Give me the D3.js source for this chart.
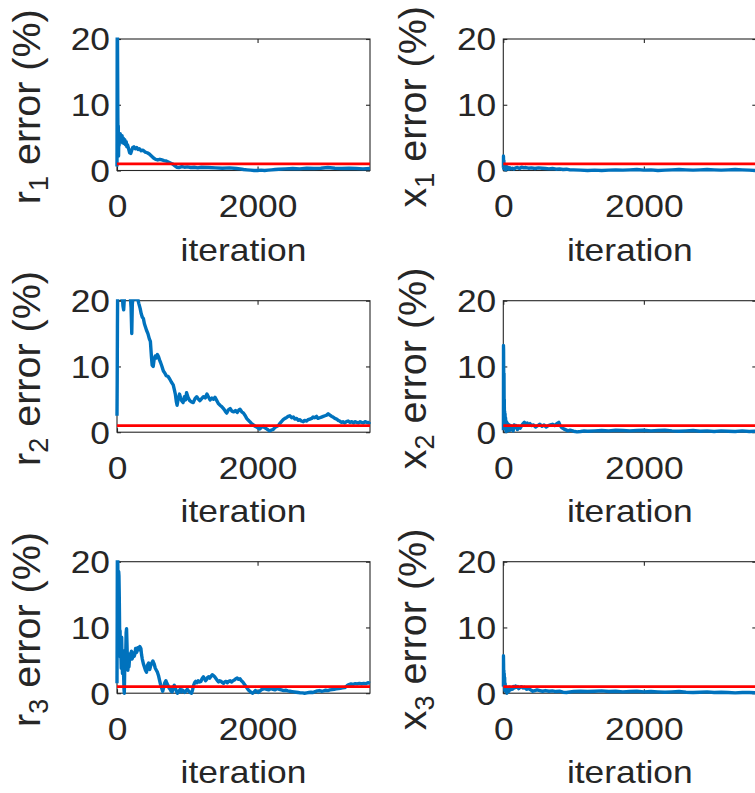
<!DOCTYPE html>
<html><head><meta charset="utf-8">
<script src="https://cdn.jsdelivr.net/npm/d3@7"></script>
<style>body{margin:0;background:#fff;} svg{display:block;}</style>
</head><body>
<svg id="chart" width="755" height="793"></svg>
<script>
// ---------- data ----------
const xTicks = [0, 2000];
const yTicks = [0, 10, 20];
const xDomain = [0, 3600];
const yDomain = [0, 20];
const threshold = 1; // red tolerance line (%)
const xLabel = "iteration";

const r1Data = [[0,0.6],[3,20.5],[6,22],[9,15],[12,8.0],[15,3.0],[18,6.8],[22,2.2],[26,5.5],[30,3.8],[35,5.2],[40,4.3],[46,5.6],[52,4.4],[58,5.1],[65,4.6],[72,5.3],[80,4.2],[90,4.9],[100,4.1],[110,4.7],[120,3.9],[130,4.4],[140,3.6],[150,3.9],[165,3.3],[180,2.7],[195,2.6],[210,3.1],[225,3.5],[240,3.6],[260,3.3],[280,3.5],[300,3.2],[320,3.3],[345,3.0],[370,3.1],[400,2.8],[430,2.7],[460,2.5],[490,2.2],[520,1.9],[550,1.7],[580,1.6],[610,1.7],[640,1.6],[670,1.5],[700,1.45],[730,1.3],[760,1.15],[790,1.0],[820,0.75],[850,0.5],[880,0.45],[920,0.6],[960,0.5],[1000,0.55],[1050,0.45],[1100,0.5],[1150,0.4],[1200,0.5],[1300,0.45],[1400,0.4],[1500,0.35],[1600,0.4],[1700,0.3],[1750,0.25],[1800,0.15],[1850,0.1],[1900,0.05],[1950,0.0],[2000,0.0],[2050,0.05],[2100,0.0],[2150,0.05],[2200,0.1],[2250,0.15],[2300,0.2],[2400,0.25],[2500,0.3],[2600,0.25],[2700,0.35],[2800,0.3],[2900,0.35],[3000,0.45],[3100,0.35],[3200,0.3],[3300,0.35],[3400,0.3],[3500,0.25],[3600,0.3]];

const r2Data = [[0,2.5],[3,8],[6,16],[9,21],[15,22],[25,21],[35,20.5],[45,22],[55,21],[66,20.3],[75,21],[85,19.2],[95,18.6],[105,20.4],[120,21],[135,22],[150,21],[170,21.5],[190,20.5],[200,19],[210,15.0],[218,19.5],[230,20.6],[250,21],[270,20.2],[290,20.5],[310,19.6],[330,18.8],[345,18.0],[360,17.5],[375,17.3],[390,16.5],[405,16.0],[420,15.5],[440,15.0],[460,14.2],[475,13.8],[490,11.5],[500,10.2],[515,10.0],[530,11.2],[545,11.6],[560,11.3],[575,11.8],[590,11.5],[605,11.0],[620,10.6],[640,10.0],[660,9.3],[680,9.0],[700,8.6],[725,8.5],[750,8.1],[775,7.6],[800,7.2],[815,6.5],[830,5.8],[845,4.6],[855,4.1],[870,5.0],[890,5.8],[905,5.2],[920,4.8],[940,4.5],[960,5.4],[975,4.9],[990,6.0],[1010,5.3],[1035,4.8],[1060,4.6],[1085,4.5],[1110,5.1],[1135,5.4],[1160,5.0],[1180,4.8],[1205,5.1],[1230,5.4],[1255,5.2],[1280,5.8],[1300,5.4],[1325,4.9],[1350,5.2],[1375,5.0],[1395,5.3],[1420,4.8],[1440,4.4],[1465,4.1],[1490,3.9],[1515,3.6],[1540,3.2],[1560,2.9],[1585,3.4],[1610,3.6],[1635,3.2],[1660,3.1],[1685,3.3],[1710,3.0],[1735,3.4],[1750,3.5],[1775,3.1],[1800,2.9],[1825,2.5],[1845,2.1],[1870,1.8],[1890,1.6],[1915,1.3],[1940,1.1],[1965,0.9],[1985,0.8],[2010,0.6],[2030,0.5],[2060,0.8],[2085,0.9],[2100,0.7],[2130,0.5],[2155,0.3],[2175,0.2],[2200,0.35],[2220,0.4],[2245,0.7],[2270,0.85],[2295,1.0],[2315,1.3],[2340,1.6],[2365,1.9],[2390,2.1],[2410,2.2],[2435,2.4],[2460,2.5],[2485,2.2],[2510,2.3],[2530,2.0],[2555,2.1],[2580,1.8],[2600,1.9],[2625,1.7],[2650,1.6],[2670,1.8],[2695,1.7],[2720,1.9],[2745,2.0],[2770,2.1],[2790,2.3],[2815,2.2],[2840,2.4],[2860,2.1],[2885,2.2],[2910,2.3],[2935,2.4],[2960,2.5],[2985,2.6],[3005,2.8],[3030,2.6],[3055,2.4],[3075,2.3],[3100,2.1],[3125,2.0],[3145,1.8],[3170,1.7],[3195,1.5],[3215,1.6],[3240,1.4],[3265,1.6],[3290,1.7],[3315,1.5],[3340,1.6],[3365,1.4],[3385,1.6],[3410,1.5],[3435,1.4],[3460,1.6],[3480,1.5],[3505,1.4],[3530,1.6],[3555,1.5],[3580,1.4],[3600,1.6]];

const r3Data = [[0,1.5],[3,12],[5,21],[8,19],[11,21],[14,14],[17,10],[20,13],[24,18.5],[28,17.8],[32,15],[36,11],[40,7],[44,9.5],[48,5.5],[52,7.5],[56,6.0],[60,3.8],[66,8.5],[72,5.0],[78,3.0],[84,6.5],[90,4.0],[96,2.0],[100,0.5],[104,0.0],[108,2.5],[112,6.0],[118,4.5],[124,5.8],[130,9.2],[136,9.8],[142,7.5],[148,5.0],[155,3.5],[162,4.8],[170,4.0],[178,5.2],[186,6.0],[195,5.5],[205,6.4],[215,5.2],[225,5.5],[235,6.1],[245,5.6],[255,6.0],[265,6.8],[280,6.2],[295,6.9],[310,6.6],[325,7.1],[340,6.8],[350,5.8],[360,5.2],[375,4.5],[390,4.0],[405,3.5],[420,3.2],[435,4.3],[450,4.6],[465,3.6],[480,4.2],[495,4.6],[510,4.9],[530,4.4],[545,3.8],[560,3.5],[575,3.2],[590,2.7],[605,2.0],[620,1.3],[635,0.8],[650,0.3],[665,0.9],[680,1.6],[695,1.9],[710,1.5],[725,1.2],[740,0.8],[755,0.6],[770,0.3],[785,0.2],[800,0.9],[815,1.2],[830,0.8],[845,0.3],[860,0.0],[880,0.3],[900,0.6],[915,0.2],[930,0.5],[950,0.3],[965,0.1],[985,0.4],[1000,0.6],[1020,0.3],[1040,0.1],[1060,0.0],[1075,0.5],[1090,1.2],[1105,1.6],[1120,1.8],[1140,1.6],[1155,1.9],[1175,1.7],[1195,1.8],[1210,2.2],[1230,2.5],[1245,2.2],[1260,1.9],[1275,2.1],[1290,2.4],[1305,2.5],[1320,2.3],[1340,2.6],[1355,2.8],[1370,2.7],[1390,2.5],[1410,2.2],[1430,1.9],[1445,1.7],[1460,1.9],[1480,1.8],[1500,1.6],[1515,1.5],[1530,1.7],[1550,1.8],[1570,1.6],[1590,1.8],[1610,1.9],[1630,1.7],[1650,1.9],[1670,2.0],[1690,2.2],[1710,2.3],[1730,2.1],[1750,2.2],[1770,1.9],[1790,1.7],[1810,1.4],[1830,1.1],[1850,0.8],[1870,0.5],[1890,0.3],[1910,0.1],[1930,0.0],[1950,0.2],[1970,0.4],[1990,0.2],[2010,0.1],[2030,0.3],[2050,0.5],[2075,0.6],[2100,0.7],[2130,0.6],[2160,0.5],[2190,0.7],[2220,0.6],[2250,0.5],[2280,0.7],[2310,0.6],[2340,0.5],[2370,0.4],[2400,0.45],[2430,0.35],[2460,0.3],[2490,0.25],[2520,0.2],[2550,0.15],[2580,0.1],[2610,0.05],[2640,0.05],[2670,0.0],[2700,0.05],[2730,0.1],[2760,0.15],[2790,0.1],[2820,0.25],[2850,0.35],[2880,0.4],[2910,0.3],[2940,0.35],[2970,0.45],[3000,0.4],[3030,0.5],[3060,0.55],[3090,0.6],[3120,0.65],[3150,0.7],[3180,0.75],[3210,0.8],[3240,0.85],[3260,1.0],[3280,1.2],[3300,1.3],[3330,1.4],[3360,1.35],[3390,1.45],[3420,1.4],[3450,1.5],[3480,1.4],[3510,1.5],[3540,1.45],[3570,1.6],[3600,1.5]];

const x1Data = [[0,0.4],[2,2.2],[4,1.5],[6,0.3],[8,1.6],[11,0.5],[14,1.1],[18,0.2],[22,0.9],[27,0.4],[32,0.7],[38,0.1],[45,0.6],[55,0.3],[65,0.5],[80,0.2],[95,0.4],[110,0.25],[130,0.35],[150,0.2],[175,0.4],[200,0.45],[230,0.3],[260,0.5],[290,0.4],[320,0.45],[360,0.35],[400,0.4],[450,0.3],[500,0.4],[550,0.35],[600,0.3],[650,0.25],[700,0.3],[750,0.2],[800,0.25],[850,0.15],[900,0.2],[950,0.1],[1000,0.1],[1100,0.05],[1200,0.0],[1300,0.05],[1400,0.0],[1500,0.05],[1600,0.1],[1700,0.05],[1800,0.1],[1900,0.15],[2000,0.05],[2100,0.1],[2200,0.0],[2300,0.05],[2400,0.1],[2500,0.15],[2600,0.1],[2700,0.05],[2800,0.1],[2900,0.15],[3000,0.1],[3100,0.05],[3200,0.1],[3300,0.15],[3400,0.1],[3500,0.05],[3600,0.0]];

const x2Data = [[0,0.3],[2,13.2],[4,12.5],[6,8],[8,4.5],[10,9],[12,3.5],[14,5],[16,2.0],[19,3.2],[22,1.0],[25,2.8],[28,0.5],[32,2.2],[36,1.2],[40,0.1],[45,1.6],[50,0.6],[56,1.4],[62,0.2],[70,1.2],[78,0.5],[86,1.1],[95,0.3],[105,1.0],[115,0.6],[125,0.9],[140,0.2],[155,1.1],[170,0.7],[185,1.0],[200,0.4],[220,0.9],[240,0.6],[260,1.0],[280,1.3],[300,1.5],[320,1.2],[340,1.4],[360,1.1],[380,1.3],[400,1.0],[430,1.1],[460,0.8],[490,1.0],[520,1.2],[550,0.9],[580,1.1],[610,0.8],[640,1.0],[670,1.1],[700,1.2],[730,1.0],[760,1.3],[790,1.5],[810,1.0],[830,0.7],[860,0.5],[890,0.35],[920,0.2],[950,0.3],[1000,0.15],[1050,0.05],[1100,0.1],[1150,0.2],[1200,0.15],[1300,0.2],[1400,0.25],[1500,0.2],[1600,0.3],[1700,0.25],[1800,0.2],[1900,0.25],[2000,0.3],[2100,0.2],[2200,0.25],[2300,0.3],[2400,0.2],[2500,0.15],[2600,0.2],[2700,0.25],[2800,0.15],[2900,0.2],[3000,0.1],[3100,0.2],[3200,0.15],[3300,0.1],[3400,0.2],[3500,0.1],[3600,0.15]];

const x3Data = [[0,1.0],[2,5.7],[4,4.5],[6,2.0],[8,3.5],[10,1.2],[13,3.0],[16,1.0],[19,2.4],[22,0.4],[26,1.5],[30,0.6],[35,1.0],[40,0.2],[46,0.9],[52,0.0],[58,0.8],[65,0.4],[72,0.7],[80,0.3],[90,0.9],[100,0.5],[115,0.8],[130,0.6],[145,1.0],[160,0.8],[175,1.1],[190,0.9],[205,1.0],[220,0.7],[240,0.9],[260,1.0],[280,0.8],[300,0.9],[330,0.6],[360,0.7],[390,0.5],[420,0.3],[450,0.4],[480,0.5],[520,0.4],[560,0.3],[600,0.4],[650,0.3],[700,0.35],[750,0.25],[800,0.3],[850,0.15],[900,0.1],[950,0.2],[1000,0.25],[1100,0.3],[1200,0.25],[1300,0.3],[1400,0.35],[1500,0.25],[1600,0.3],[1700,0.2],[1800,0.25],[1900,0.3],[2000,0.2],[2100,0.25],[2200,0.2],[2300,0.15],[2400,0.2],[2500,0.25],[2600,0.15],[2700,0.1],[2800,0.15],[2900,0.2],[3000,0.1],[3100,0.15],[3200,0.1],[3300,0.05],[3400,0.1],[3500,0.1],[3600,0.05]];

const panelSymbols = ["r","x","r","x","r","x"];
const panelIndices = ["1","1","2","2","3","3"];
const panelData = [r1Data, x1Data, r2Data, x2Data, r3Data, x3Data];

// ---------- layout ----------
const colLeft = [117, 503.3];
const rowTop = [39, 300.7, 561.7];
const W = 253, H = 131.5;
const SX = 1.16;           // horizontal glyph stretch of the original figure
const ink = "#262626";
const font = "'Liberation Sans', Arial, Helvetica, sans-serif";
const tickFS = 30.5, xLabFS = 30.5, yLabFS = 39.5, subFS = 27;

const svg = d3.select("#chart");
const defs = svg.append("defs");

panelData.forEach((data, i) => {
  const col = i % 2, row = Math.floor(i / 2);
  const L = colLeft[col], T = rowTop[row];
  const x = d3.scaleLinear().domain(xDomain).range([L, L + W]);
  const y = d3.scaleLinear().domain(yDomain).range([T + H, T]);
  const g = svg.append("g");

  g.append("rect").attr("x", L).attr("y", T).attr("width", W).attr("height", H)
    .attr("fill", "none").attr("stroke", ink).attr("stroke-width", 1.1);

  const fmt = d3.format("d");
  const bx = g.append("g").attr("transform", `translate(0,${T + H})`)
    .call(d3.axisBottom(x).tickValues(xTicks).tickSize(-4).tickSizeOuter(0).tickFormat(fmt));
  const tx = g.append("g").attr("transform", `translate(0,${T})`)
    .call(d3.axisTop(x).tickValues(xTicks).tickSize(-4).tickSizeOuter(0).tickFormat(""));
  const ly = g.append("g").attr("transform", `translate(${L},0)`)
    .call(d3.axisLeft(y).tickValues(yTicks).tickSize(-4).tickSizeOuter(0).tickFormat(fmt));
  const ry = g.append("g").attr("transform", `translate(${L + W},0)`)
    .call(d3.axisRight(y).tickValues(yTicks).tickSize(-4).tickSizeOuter(0).tickFormat(""));
  [bx, tx, ly, ry].forEach(a => {
    a.select(".domain").remove();
    a.selectAll(".tick line").attr("stroke", ink).attr("stroke-width", 1.1);
  });
  bx.selectAll(".tick text")
    .attr("y", null).attr("dy", null)
    .attr("transform", `translate(0,46.5) scale(${SX},1)`)
    .attr("text-anchor", "middle")
    .attr("fill", ink).style("font-family", font).style("font-size", tickFS + "px");
  ly.selectAll(".tick text")
    .attr("x", null).attr("dy", null)
    .attr("transform", `translate(-7,${0.716 * tickFS / 2}) scale(${SX},1)`)
    .attr("text-anchor", "end")
    .attr("fill", ink).style("font-family", font).style("font-size", tickFS + "px");

  g.append("text")
    .attr("transform", `translate(${L + W / 2},${T + H + 90}) scale(${SX},1)`)
    .attr("text-anchor", "middle").attr("fill", ink)
    .style("font-family", font).style("font-size", xLabFS + "px")
    .text(xLabel);

  const yl = g.append("text")
    .attr("transform", `translate(${L - 77},${T + H / 2 + 2}) rotate(-90)`)
    .attr("text-anchor", "middle").attr("fill", ink)
    .style("font-family", font).style("font-size", yLabFS + "px");
  yl.append("tspan").text(panelSymbols[i]);
  yl.append("tspan").attr("dy", 8).style("font-size", subFS + "px").text(panelIndices[i]);
  yl.append("tspan").attr("dy", -8).text(" error (%)");

  const cid = "clip" + i;
  defs.append("clipPath").attr("id", cid).append("rect")
    .attr("x", L - 2).attr("y", T - 1.5).attr("width", W + 4).attr("height", H + 4);

  const line = d3.line().x(d => x(d[0])).y(d => y(d[1]));
  g.append("path").datum(data).attr("clip-path", `url(#${cid})`)
    .attr("d", line).attr("fill", "none").attr("stroke", "#0072BD")
    .attr("stroke-width", 3.4).attr("stroke-linejoin", "round");

  g.append("path").datum([[xDomain[0], threshold], [xDomain[1], threshold]])
    .attr("clip-path", `url(#${cid})`)
    .attr("d", line).attr("fill", "none").attr("stroke", "#FF0000").attr("stroke-width", 2.8);
});
</script>
</body></html>
